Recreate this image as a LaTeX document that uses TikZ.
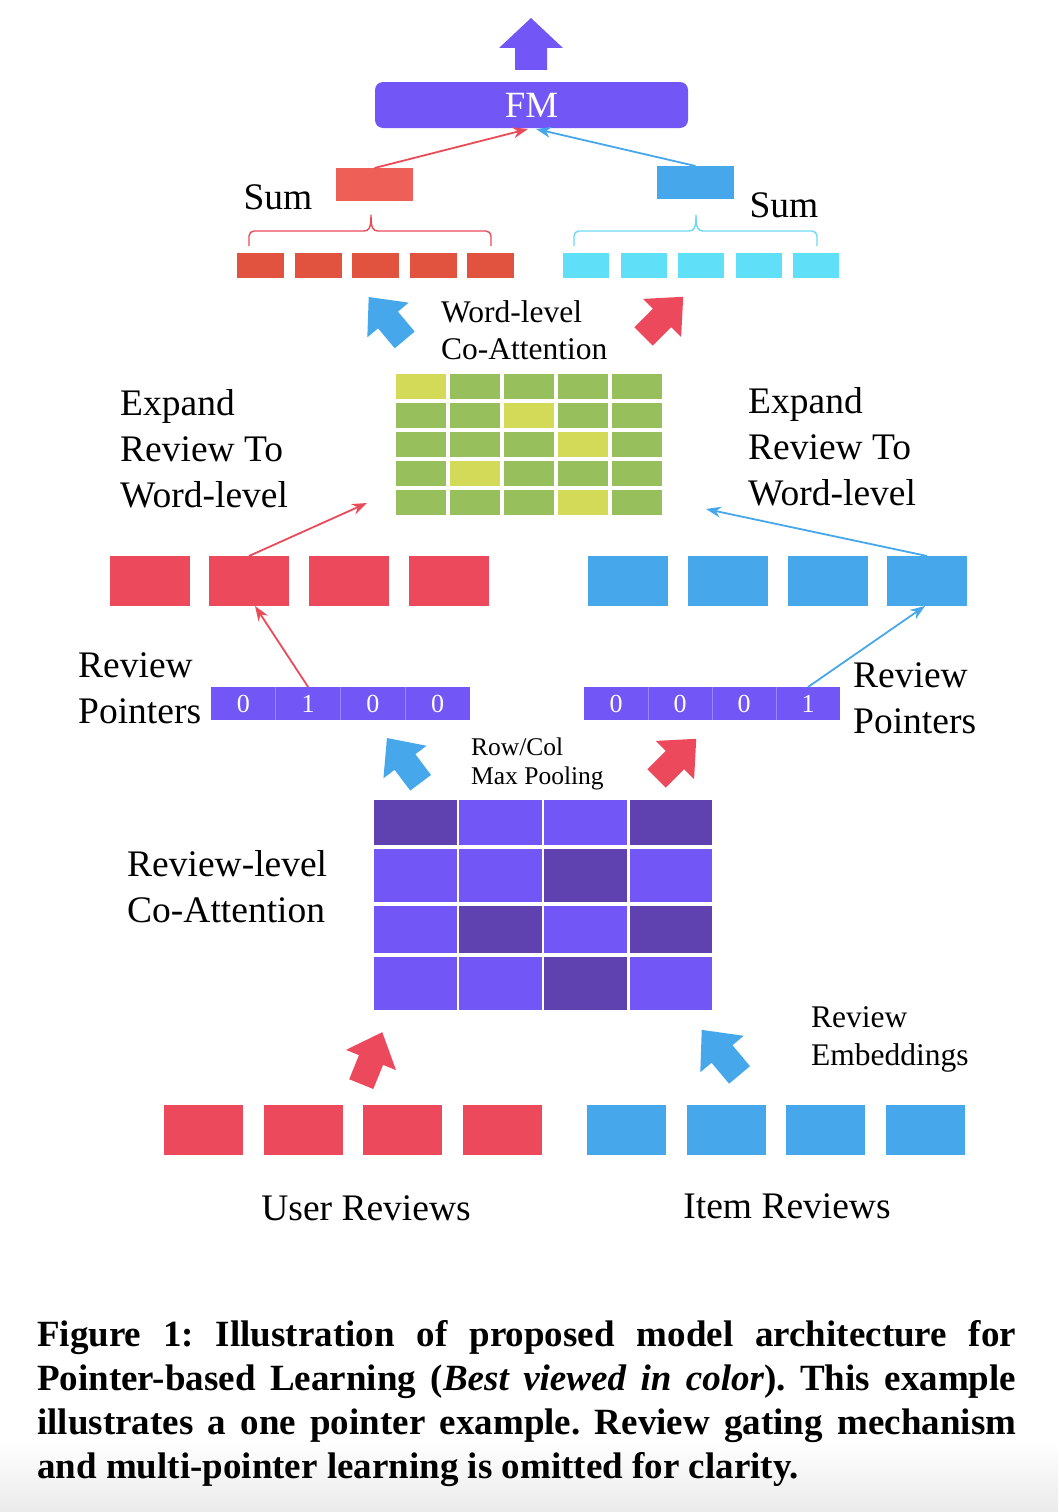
\documentclass[tikz,border=0pt]{standalone}
\usepackage{fontspec}
\setmainfont{Liberation Serif}
\usetikzlibrary{arrows.meta}
\definecolor{purpL}{HTML}{7357F6}
\definecolor{purpD}{HTML}{5F41AF}
\definecolor{redM}{HTML}{EC4A5C}
\definecolor{blueM}{HTML}{47A7EB}
\definecolor{redS}{HTML}{EE5F58}
\definecolor{redT}{HTML}{E1533F}
\definecolor{redL}{HTML}{E94B58}
\definecolor{cyanT}{HTML}{5FDFF8}
\definecolor{cyanB}{HTML}{6ED8F4}
\definecolor{greenC}{HTML}{97BF5B}
\definecolor{yellC}{HTML}{D2DA58}
\begin{document}
\frenchspacing
\begin{tikzpicture}[x=1pt,y=-1pt,
  box/.style={anchor=north west,inner sep=0pt,outer sep=0pt,draw=none},
  lbl/.style={anchor=base west,inner sep=0pt,align=left,font=\fontsize{37.5}{46}\selectfont},
  lblc/.style={anchor=base,inner sep=0pt,font=\fontsize{37.5}{46}\selectfont},
  lblm/.style={anchor=base west,inner sep=0pt,align=left,font=\fontsize{31.5}{37}\selectfont},
  lble/.style={anchor=base west,inner sep=0pt,align=left,font=\fontsize{31.5}{38}\selectfont},
  lbls/.style={anchor=base west,inner sep=0pt,align=left,font=\fontsize{25.5}{29}\selectfont},
  captxt/.style={anchor=base west,inner sep=0pt,font=\fontsize{37}{44}\selectfont\bfseries\frenchspacing},
  conn/.style={line width=1.8pt,-{Stealth[length=15pt,width=11pt]}},
  pcell/.style={box,fill=purpL,text=white,minimum height=33pt,font=\fontsize{26}{30}\selectfont},
  pdiv/.style={draw=purpL!72!white,line width=0.9pt},
  bracepath/.style={line width=1.4pt,line join=round},
  pics/barrow/.style={code={\fill[#1] (0,-30) -- (27,0) -- (13,0) -- (13,26) -- (-13,26) -- (-13,0) -- (-27,0) -- cycle;}}
]
\useasboundingbox (0,0) rectangle (1058,1512);
\shade[top color=white,bottom color=black!8] (0,1440) rectangle (1058,1512);

% ---- top output arrow and FM
\fill[purpL] (531,18) -- (563,48) -- (547,48) -- (547,70) -- (515,70) -- (515,48) -- (499,48) -- cycle;
\node[box,fill=purpL,rounded corners=8pt,minimum width=313pt,minimum height=46pt,text=white,font=\fontsize{37}{44}\selectfont] (fm) at (375,82) {FM};

% ---- sum boxes
\node[box,fill=redS,minimum width=77pt,minimum height=33pt] (rs) at (336,168) {};
\node[box,fill=blueM,minimum width=77pt,minimum height=33pt] (bs) at (657,166) {};
\node[lblc] (suml) at (278,209) {Sum};
\node[lblc] (sumr) at (784,217) {Sum};
\coordinate (fmr) at (528,129);
\coordinate (fmb) at (536,129);
\draw[conn,redL] (rs.north) -- (fmr);
\draw[conn,blueM] (bs.north) -- (fmb);

% ---- braces
\draw[bracepath,redL] (249,246) -- (249,236) arc[start angle=180,end angle=270,radius=5] -- (364,231)
  .. controls (369,231) and (371,228) .. (371,215)
  .. controls (371,228) and (373,231) .. (378,231) -- (486,231) arc[start angle=-90,end angle=0,radius=5] -- (491,246);
\draw[bracepath,cyanB] (574,246) -- (574,236) arc[start angle=180,end angle=270,radius=5] -- (689,231)
  .. controls (694,231) and (696,228) .. (696,215)
  .. controls (696,228) and (698,231) .. (703,231) -- (812,231) arc[start angle=-90,end angle=0,radius=5] -- (817,246);

% ---- word vectors
\foreach \i/\x in {1/237,2/295,3/352,4/410,5/467}
  \node[box,fill=redT,minimum width=47pt,minimum height=25pt] (wr\i) at (\x,253) {};
\foreach \i/\x in {1/563,2/621,3/678,4/736,5/793}
  \node[box,fill=cyanT,minimum width=46pt,minimum height=25pt] (wb\i) at (\x,253) {};

% ---- word-level block arrows and label
\pic[rotate=40] at (388,320) {barrow=blueM};
\pic[rotate=-45] at (662,318) {barrow=redM};
\node[lblm] (wlc) at (441,359) {Word-level\\Co-Attention};

% ---- word-level co-attention grid
\foreach \r/\l in {0/0,1/2,2/3,3/1,4/3}
  \foreach \c in {0,...,4}{
    \ifnum\c=\l\relax\def\cc{yellC}\else\def\cc{greenC}\fi
    \node[box,fill=\cc,minimum width=50pt,minimum height=25pt] (wg\r\c) at ({396+54*\c},{374+29*\r}) {};
  }

% ---- expand labels
\node[lbl] (exl) at (120,507) {Expand\\Review To\\Word-level};
\node[lbl] (exr) at (748,505) {Expand\\Review To\\Word-level};

% ---- review vectors (middle)
\foreach \i/\x in {1/110,2/209,3/309,4/409}
  \node[box,fill=redM,minimum width=80pt,minimum height=50pt] (rm\i) at (\x,556) {};
\foreach \i/\x in {1/588,2/688,3/788,4/887}
  \node[box,fill=blueM,minimum width=80pt,minimum height=50pt] (bm\i) at (\x,556) {};
\coordinate (gl) at (367,503);
\coordinate (gr) at (706,509);
\draw[conn,redL] (rm2.north) -- (gl);
\draw[conn,blueM] (bm4.north) -- (gr);

% ---- pointers
\node[lbl] (rpl) at (78,723) {Review\\Pointers};
\node[lbl] (rpr) at (853,733) {Review\\Pointers};
\foreach \i/\x/\d in {1/211/0,2/275.75/1,3/340.5/0,4/405.25/0}
  \node[pcell,minimum width=64.75pt] (pl\i) at (\x,687) {\d};
\foreach \i/\x/\d in {1/584/0,2/648/0,3/712/0,4/776/1}
  \node[pcell,minimum width=64pt] (pr\i) at (\x,687) {\d};
\foreach \i in {1,2,3}{
  \draw[pdiv] (pl\i.north east) -- (pl\i.south east);
  \draw[pdiv] (pr\i.north east) -- (pr\i.south east);
}
\draw[conn,redL] (pl2.north) -- ([xshift=6pt]rm2.south);
\draw[conn,blueM] (pr4.north) -- ([xshift=-2pt]bm4.south);

% ---- pooling arrows
\pic[rotate=37] at (405,762) {barrow=blueM};
\pic[rotate=-45] at (675,760) {barrow=redM};
\node[lbls] (rcm) at (471,784) {Row/Col\\Max Pooling};

% ---- review-level co-attention grid
\foreach \r/\y/\h/\da/\db in {0/800/45/0/3,1/849/53/2/2,2/906/47/1/3,3/957/53/2/2}
  \foreach \c in {0,...,3}{
    \ifnum\c=\da\relax\def\cc{purpD}\else\ifnum\c=\db\relax\def\cc{purpD}\else\def\cc{purpL}\fi\fi
    \node[box,fill=\cc,minimum width=82.5pt,minimum height=\h pt] (pg\r\c) at ({374+85.2*\c},\y) {};
  }
\node[lbl] (rlc) at (127,922) {Review-level\\Co-Attention};

% ---- embedding arrows
\pic[rotate=-22] at (371,1060) {barrow=redM};
\pic[rotate=40,scale=1.05] at (722,1054) {barrow=blueM};
\node[lble] (re) at (811,1065) {Review\\Embeddings};

% ---- review embeddings (bottom)
\foreach \i/\x in {1/164,2/264,3/363,4/463}
  \node[box,fill=redM,minimum width=79pt,minimum height=50pt] (ur\i) at (\x,1105) {};
\foreach \i/\x in {1/587,2/687,3/786,4/886}
  \node[box,fill=blueM,minimum width=79pt,minimum height=50pt] (ir\i) at (\x,1105) {};
\node[lblc] (ul) at (366,1220) {User Reviews};
\node[lblc] (il) at (787,1218) {Item Reviews};

% ---- caption
\node[captxt] (c1) at (37,1346) {\makebox[979pt][s]{Figure 1: Illustration of proposed model architecture for}};
\node[captxt] (c2) at (37,1390) {\makebox[979pt][s]{Pointer-based Learning (\textit{Best viewed in color}). This example}};
\node[captxt] (c3) at (37,1434) {\makebox[979pt][s]{illustrates a one pointer example. Review gating mechanism}};
\node[captxt] (c4) at (37,1478) {and multi-pointer learning is omitted for clarity.};
\end{tikzpicture}
\end{document}
